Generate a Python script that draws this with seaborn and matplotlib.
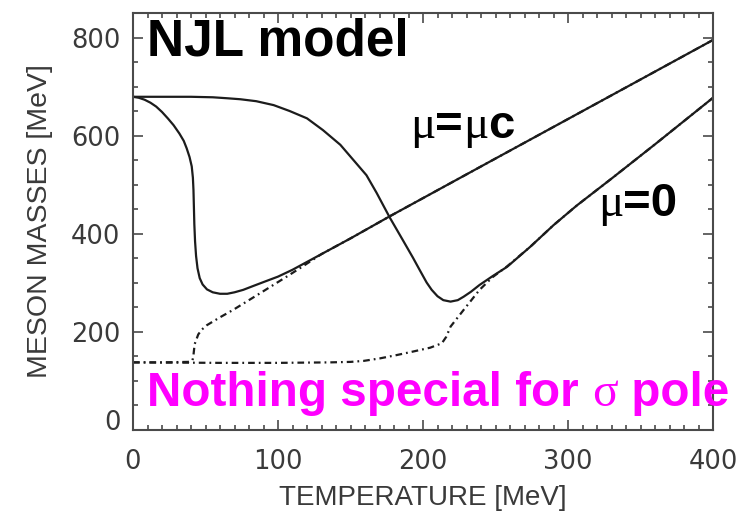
import numpy as np
import pandas as pd
import seaborn as sns
import matplotlib
matplotlib.use("Agg")
import matplotlib.pyplot as plt
from matplotlib.offsetbox import TextArea, HPacker, AnnotationBbox
from matplotlib.ticker import MultipleLocator

# Temperature [MeV] and meson masses [MeV]
# sigma meson, mu = mu_c
t_sigma_c = [0, 4, 8, 12, 16, 20, 24, 28, 32, 35, 37, 39, 40.5, 41.3, 41.7, 42, 42.3,
             42.8, 43.5, 44.5, 46, 48, 51, 55, 60, 65, 70, 76, 83, 91, 100, 110,
             130, 150, 177, 250, 330, 400]
m_sigma_c = [680, 678, 674, 668, 660, 649, 636, 622, 605, 590, 575, 557, 538, 515,
             490, 455, 420, 385, 355, 330, 310, 297, 287, 281, 278, 278, 281, 286,
             294, 303, 313, 327, 359, 391, 436, 554, 683, 796]

# sigma meson, mu = 0
t_sigma_0 = [0, 40, 55, 65, 74, 85, 97, 108, 120, 131, 143, 152, 161, 168, 177,
             186, 193, 198, 202.5, 206, 210, 214, 219, 224, 228, 233, 239, 248,
             258, 274, 290, 306, 330, 360, 400]
m_sigma_0 = [680, 680, 679, 677, 675, 671, 663, 651, 636, 612, 582, 551, 520, 484,
             434, 388, 352, 325, 301, 286, 273, 265, 262, 265, 272, 282, 296, 314,
             333, 374, 418, 458, 513, 583, 678]

# pion, mu = mu_c
t_pion_c = [0, 20, 38, 41, 41.6, 42.5, 45, 47.5, 51, 60, 69, 87.6, 106, 115, 130,
            150, 177, 250, 330, 400]
m_pion_c = [138, 138, 139, 142, 150, 175, 195, 205, 214, 230, 245, 279, 313, 330, 359,
            391, 436, 554, 683, 796]

# pion, mu = 0
t_pion_0 = [0, 60, 100, 136, 150, 159, 170, 182, 193, 205, 213, 216, 219, 228,
            239, 248, 258, 274, 290, 306, 330, 360, 400]
m_pion_0 = [138, 137, 137, 138, 139, 141, 146, 153, 160, 168, 177, 190, 211, 245,
            286, 312, 334, 374, 418, 458, 513, 583, 678]

curves = ["pion_c", "pion_0", "sigma_c", "sigma_0"]
x_ticks = [0, 100, 200, 300, 400]
y_ticks = [0, 200, 400, 600, 800]

frames = [
    pd.DataFrame({"T": t_pion_c, "M": m_pion_c, "curve": "pion_c"}),
    pd.DataFrame({"T": t_pion_0, "M": m_pion_0, "curve": "pion_0"}),
    pd.DataFrame({"T": t_sigma_c, "M": m_sigma_c, "curve": "sigma_c"}),
    pd.DataFrame({"T": t_sigma_0, "M": m_sigma_0, "curve": "sigma_0"}),
]
df = pd.concat(frames, ignore_index=True)

sns.set_theme(style="ticks")
plt.rcParams["font.family"] = ["Liberation Sans", "DejaVu Sans"]

W, H = 743, 515
fig = plt.figure(figsize=(W / 100, H / 100), dpi=100)
ax = fig.add_axes([133 / W, 1 - 430 / H, (713 - 133) / W, (430 - 13) / H])

line_color = "#1c1c1c"
dashdot = (3.0, 1.8, 0.8, 1.8)
sns.lineplot(
    data=df, x="T", y="M", hue="curve", style="curve",
    hue_order=curves, style_order=curves,
    palette={c: line_color for c in curves},
    dashes={"pion_c": dashdot, "pion_0": dashdot, "sigma_c": "", "sigma_0": ""},
    sort=False, estimator=None, legend=False, linewidth=1.6, ax=ax,
)

ax.set_xlim(0, 400)
ax.set_ylim(0, 851)
ax.set_xticks(x_ticks)
ax.set_yticks(y_ticks)
ax.xaxis.set_minor_locator(MultipleLocator(10))
ax.yaxis.set_minor_locator(MultipleLocator(50))

axis_color = "#4a4a4a"
text_color = "#3a3a3a"
for s in ax.spines.values():
    s.set_color(axis_color)
    s.set_linewidth(1.5)
ax.tick_params(which="both", direction="in", top=True, right=True,
               color=axis_color, width=1.2, labelcolor=text_color)
ax.tick_params(which="major", length=7.2)
ax.tick_params(which="minor", length=3.4)
ax.tick_params(axis="x", which="major", pad=14)
ax.tick_params(axis="y", which="major", pad=9)
for lab in ax.get_xticklabels() + ax.get_yticklabels():
    lab.set_family("DejaVu Sans")
    lab.set_fontsize(18.5)
ax.yaxis.get_major_ticks()[0].label1.set_verticalalignment("baseline")

ax.set_xlabel("TEMPERATURE [MeV]", fontsize=20, color=text_color, labelpad=7)
ax.set_ylabel("MESON MASSES [MeV]", fontsize=20.5, color=text_color, labelpad=13)


def mixed_label(pieces, xy_px, size, color):
    areas = [TextArea(s, textprops=dict(family=fam, weight=wt, size=size, color=color))
             for s, fam, wt in pieces]
    box = HPacker(children=areas, align="baseline", pad=0, sep=0)
    ab = AnnotationBbox(box, xy_px, xycoords="figure pixels", box_alignment=(0, 0),
                        frameon=False, pad=0, annotation_clip=False)
    ax.add_artist(ab)


sans = "Liberation Sans"
serif = "Liberation Serif"

fig.text(147 / W, 1 - 56 / H, "NJL model", fontsize=37, fontweight="bold",
         color="black", va="baseline", ha="left", family=sans)

mixed_label([("\u03bc", serif, "normal"), ("=", sans, "bold"),
             ("\u03bc", serif, "normal"), ("c", sans, "bold")],
            (410, H - 148), 34, "black")

mixed_label([("\u03bc", serif, "normal"), ("=0", sans, "bold")],
            (598, H - 226), 34, "black")

mixed_label([("Nothing special for ", sans, "bold"), ("\u03c3", serif, "normal"),
             (" pole", sans, "bold")],
            (147, H - 416), 34.3, "#ff00ff")

fig.savefig("out.png", dpi=100)
